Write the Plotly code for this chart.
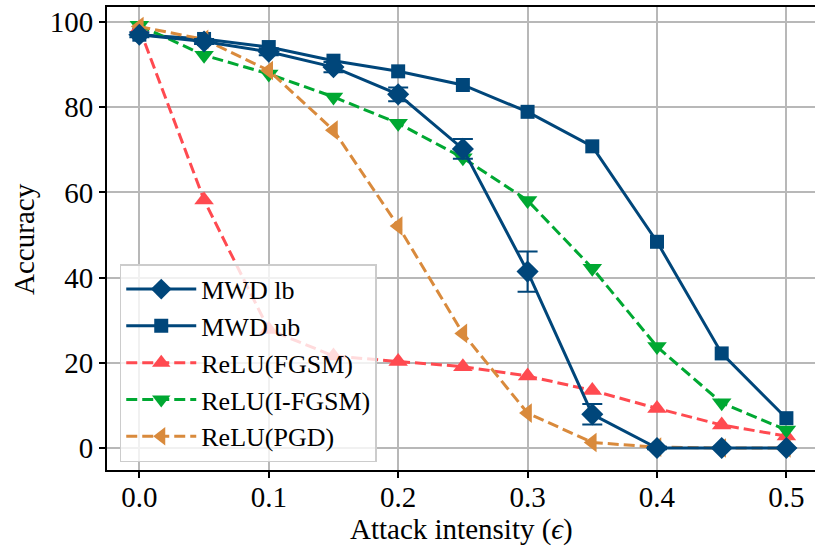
import plotly.graph_objects as go

eps = [0.0, 0.05, 0.1, 0.15, 0.2, 0.25, 0.3, 0.35, 0.4, 0.45, 0.5]
mwd_lb = [97.0, 95.4, 93.0, 89.4, 83.0, 70.2, 41.4, 7.9, 0.0, 0.0, 0.0]
mwd_lb_err = [0.6, 0.6, 0.8, 1.2, 1.6, 2.3, 4.7, 2.4, 0.3, 0.0, 0.0]
mwd_ub = [97.0, 96.0, 94.1, 90.9, 88.4, 85.2, 78.9, 70.8, 48.4, 22.2, 7.0]
relu_fgsm = [98.5, 58.2, 27.8, 21.6, 20.3, 19.1, 16.9, 13.5, 9.3, 5.4, 2.8]
relu_ifgsm = [99.2, 92.2, 87.8, 82.4, 76.2, 68.1, 58.1, 42.2, 23.8, 10.6, 4.2]
relu_pgd = [98.9, 95.9, 88.6, 74.6, 52.1, 26.9, 8.2, 1.3, 0.2, 0.0, 0.0]

x_ticks = [0.0, 0.1, 0.2, 0.3, 0.4, 0.5]
x_ticklabels = ["0.0", "0.1", "0.2", "0.3", "0.4", "0.5"]
y_ticks = [0, 20, 40, 60, 80, 100]

NAVY = "#00467a"
RED = "#ff4a50"
GREEN = "#00a832"
ORANGE = "#d98a3c"
DASH = "11px,5px"

fig = go.Figure()

fig.add_trace(go.Scatter(
    x=eps, y=mwd_ub, name="MWD ub", mode="lines+markers", legendrank=2,
    line=dict(color=NAVY, width=3),
    marker=dict(symbol="square", size=14, color=NAVY),
))
fig.add_trace(go.Scatter(
    x=eps, y=relu_fgsm, name="ReLU(FGSM)", mode="lines+markers", legendrank=3,
    line=dict(color=RED, width=3, dash=DASH),
    marker=dict(symbol="triangle-up", size=17, color=RED),
))
fig.add_trace(go.Scatter(
    x=eps, y=relu_ifgsm, name="ReLU(I-FGSM)", mode="lines+markers", legendrank=4,
    line=dict(color=GREEN, width=3, dash=DASH),
    marker=dict(symbol="triangle-down", size=17, color=GREEN),
))
fig.add_trace(go.Scatter(
    x=eps, y=relu_pgd, name="ReLU(PGD)", mode="lines+markers", legendrank=5,
    line=dict(color=ORANGE, width=3, dash=DASH),
    marker=dict(symbol="triangle-left", size=17, color=ORANGE),
))
fig.add_trace(go.Scatter(
    x=eps, y=mwd_lb, name="MWD lb", mode="lines+markers", legendrank=1,
    line=dict(color=NAVY, width=3),
    marker=dict(symbol="diamond", size=17, color=NAVY),
    error_y=dict(type="data", array=mwd_lb_err, visible=True,
                 color=NAVY, thickness=2, width=10),
))

FONT = "Liberation Serif"

fig.update_layout(
    width=815, height=548,
    margin=dict(l=107, r=0, t=7, b=78),
    paper_bgcolor="white", plot_bgcolor="white",
    font=dict(family=FONT, size=29, color="black"),
    showlegend=True,
    legend=dict(
        x=0.018, y=0.017, xanchor="left", yanchor="bottom",
        bgcolor="rgba(255,255,255,0.8)", bordercolor="#cccccc", borderwidth=1.5,
        font=dict(family=FONT, size=26, color="black"),
        itemwidth=70, tracegroupgap=0,
    ),
    xaxis=dict(
        range=[-0.025, 0.5221], automargin=False,
        tickvals=x_ticks, ticktext=x_ticklabels,
        showgrid=True, gridcolor="#b8b8b8", gridwidth=1.5,
        showline=True, linecolor="black", linewidth=2, mirror=True,
        ticks="outside", ticklen=6, tickwidth=1.5, tickcolor="black",
        ticklabelstandoff=-6,
        zeroline=False,
    ),
    yaxis=dict(
        range=[-5.16, 103.5], automargin=False,
        tickvals=y_ticks,
        showgrid=True, gridcolor="#b8b8b8", gridwidth=1.5,
        showline=True, linecolor="black", linewidth=2, mirror=False,
        ticks="outside", ticklen=6, tickwidth=1.5, tickcolor="black",
        zeroline=False,
    ),
    annotations=[
        dict(text="Attack intensity (<i>ϵ</i>)", xref="paper", yref="paper",
             x=0.5, y=-0.128, xanchor="center", yanchor="middle",
             showarrow=False, font=dict(family=FONT, size=29, color="black")),
        dict(text="Accuracy", xref="paper", yref="paper",
             x=-0.118, y=0.5, xanchor="center", yanchor="middle", textangle=-90,
             showarrow=False, font=dict(family=FONT, size=29, color="black")),
    ],
)

fig.write_html("out.html", config={"displayModeBar": False},
               post_script="document.body.style.margin='0px';")
